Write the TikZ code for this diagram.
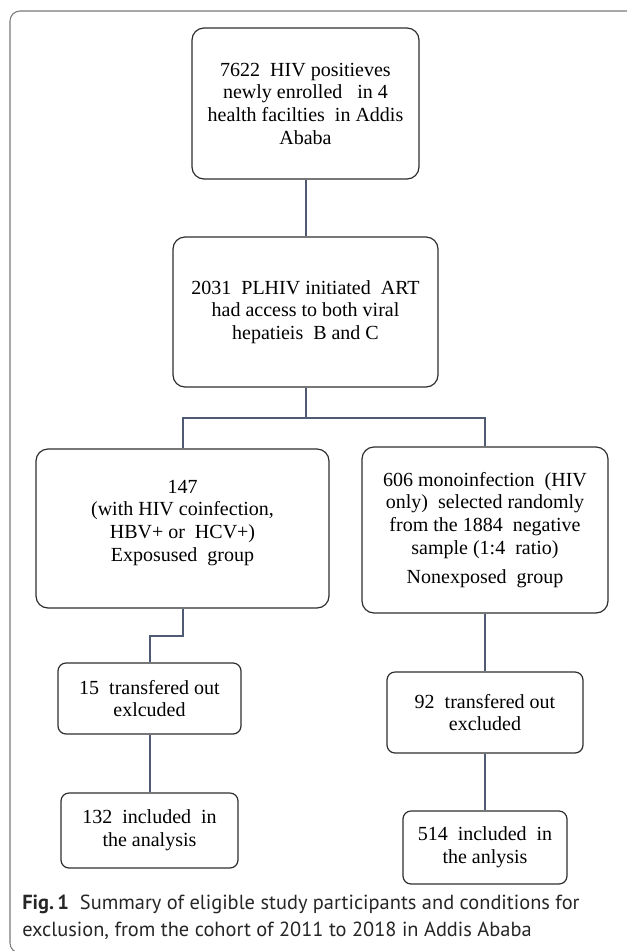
\documentclass[tikz,border=0pt]{standalone}
\usepackage{fontspec}
\setmainfont{Liberation Serif}
\newfontfamily\capfont{PT Sans}
\usepackage{xcolor}
\usepackage{tikz}
\usetikzlibrary{positioning,calc}
\definecolor{framegray}{HTML}{7A7A7A}
\definecolor{boxline}{HTML}{2E2E2E}
\definecolor{linkblue}{HTML}{4E5B72}

\begin{document}
\begin{tikzpicture}[x=0.75pt,y=-0.75pt,
  box/.style={draw=boxline,line width=0.9pt,rounded corners=9pt,align=center,
    font=\fontsize{15}{17}\selectfont,inner sep=2pt},
  smallbox/.style={box,rounded corners=6pt},
  link/.style={draw=linkblue,line width=1.5pt},
  caption/.style={anchor=base west,inner sep=0pt,text=black!85,
    font=\capfont\fontsize{15.3}{18}\selectfont}]
  \useasboundingbox (0,0) rectangle (627,951);
  \begin{scope}
    \clip (0,0) rectangle (627,951);
    \draw[framegray,line width=0.8pt,rounded corners=7.5pt] (10,11) rectangle (660,953);
  \end{scope}

  \node[box,minimum width=170.25pt,minimum height=113.25pt] (enrolled) at (305.5,103.5)
    {7622\ \ HIV positieves\\newly enrolled\ \ \ in 4\\health facilties\ \ in Addis\\Ababa};
  \node[box,minimum width=198.75pt,minimum height=112.5pt] (initiated) at (305.5,312)
    {2031\ \ PLHIV initiated\ \ ART\\had access to both viral\\hepatieis\ \ B and C};
  \node[box,minimum width=219.75pt,minimum height=119.25pt] (exposed) at (182.5,528.5)
    {147\\(with HIV coinfection,\\HBV+ or\ \ HCV+)\\Exposused\ \ group\\[-5pt]\mbox{}};
  \node[box,minimum width=184.5pt,minimum height=124.5pt] (nonexposed) at (485,530)
    {606 monoinfection\ \ (HIV\\only)\ \ selected randomly\\from the 1884\ \ negative\\sample (1:4\ \ ratio)\\[5pt]Nonexposed\ \ group};
  \node[smallbox,minimum width=137.25pt,minimum height=53.25pt] (outexp) at (149.5,698.5)
    {15\ \ transfered out\\exlcuded};
  \node[smallbox,minimum width=132.75pt,minimum height=56.25pt] (inexp) at (149.5,830.5)
    {132\ \ included\ \ in\\the analysis};
  \node[smallbox,minimum width=147pt,minimum height=60.75pt] (outnon) at (485,712.5)
    {92\ \ transfered out\\excluded};
  \node[smallbox,minimum width=123pt,minimum height=54.75pt] (innon) at (485,847.5)
    {514\ \ included\ \ in\\the anlysis};

  \coordinate (split) at (305.5,418);
  \draw[link] (enrolled) -- (initiated);
  \draw[link] (initiated) -- (split);
  \draw[link] (split) -| (exposed.north);
  \draw[link] (split) -| (nonexposed.north);
  \draw[link] (exposed.south) -- ++(0,27) -| (outexp.north);
  \draw[link] (outexp) -- (inexp);
  \draw[link] (nonexposed) -- (outnon);
  \draw[link] (outnon) -- (innon);

  \node[caption] (capone) at (22,909)
    {\textbf{Fig.\,1}\ \ Summary of eligible study participants and conditions for};
  \node[caption] (captwo) at (22,936)
    {exclusion, from the cohort of 2011 to 2018 in Addis Ababa};
\end{tikzpicture}
\end{document}
